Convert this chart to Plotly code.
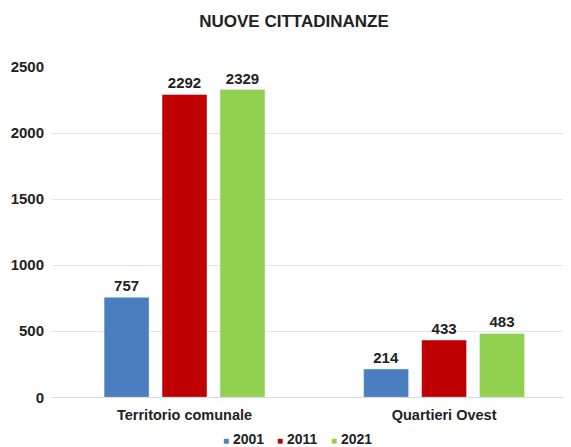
import plotly.graph_objects as go

categories = ["Territorio comunale", "Quartieri Ovest"]
years = ["2001", "2011", "2021"]
values_2001 = [757, 214]
values_2011 = [2292, 433]
values_2021 = [2329, 483]
colors = ["#4A7EBF", "#C00000", "#92D050"]

FONT = "Liberation Sans"
TXT = "#222222"
legend_ids = ["legend", "legend2", "legend3"]
legend_x = [0.2524, 0.3565, 0.4605]

fig = go.Figure()
for name, vals, col in zip(years, [values_2001, values_2011, values_2021], colors):
    fig.add_trace(go.Bar(
        x=categories, y=vals, name=name, marker_color=col, legendgroup=name,
        text=[str(v) for v in vals], textposition="outside",
        textfont=dict(family=FONT, size=15, color=TXT, weight="bold"),
        cliponaxis=False, showlegend=False,
    ))
# legend entries: small coloured square drawn as text right before the year
for name, col, lid in zip(years, colors, legend_ids):
    fig.add_trace(go.Scatter(
        x=[None], y=[None], mode="markers", legendgroup=name, legend=lid,
        name=f"<span style='color:{col};font-size:10px'>■</span> {name}",
        marker=dict(symbol="square", size=7, color="rgba(0,0,0,0)"),
    ))

layout_legends = {}
for lid, lx in zip(legend_ids, legend_x):
    layout_legends[lid] = dict(
        orientation="h", xref="paper", x=lx, xanchor="left",
        yref="container", y=0.019, yanchor="middle",
        font=dict(family=FONT, size=14, color=TXT, weight="bold"),
        itemwidth=30, bgcolor="rgba(0,0,0,0)",
    )

fig.update_layout(
    width=563, height=439,
    margin=dict(l=44, r=0, t=59, b=48),
    paper_bgcolor="white", plot_bgcolor="white",
    barmode="group", bargap=0.33, bargroupgap=0.224,
    title=dict(text="<b>NUOVE CITTADINANZE</b>", xref="container", x=0.508, xanchor="center",
               yref="container", y=0.970, yanchor="middle",
               font=dict(family=FONT, size=17, color=TXT)),
    font=dict(family=FONT, size=14, color=TXT),
    yaxis=dict(range=[0, 2500], dtick=500, showgrid=True, gridcolor="#e4e4e4", gridwidth=1,
               tickfont=dict(family=FONT, size=15, color=TXT, weight="bold"),
               zeroline=False, ticks="", ticklabelstandoff=7),
    xaxis=dict(type="category", range=[-0.5106, 1.489], showline=True, linecolor="#d9d9d9",
               tickfont=dict(family=FONT, size=14.5, color=TXT, weight="bold"),
               ticklabelstandoff=4),
    **layout_legends,
)
fig.write_html("out.html")
